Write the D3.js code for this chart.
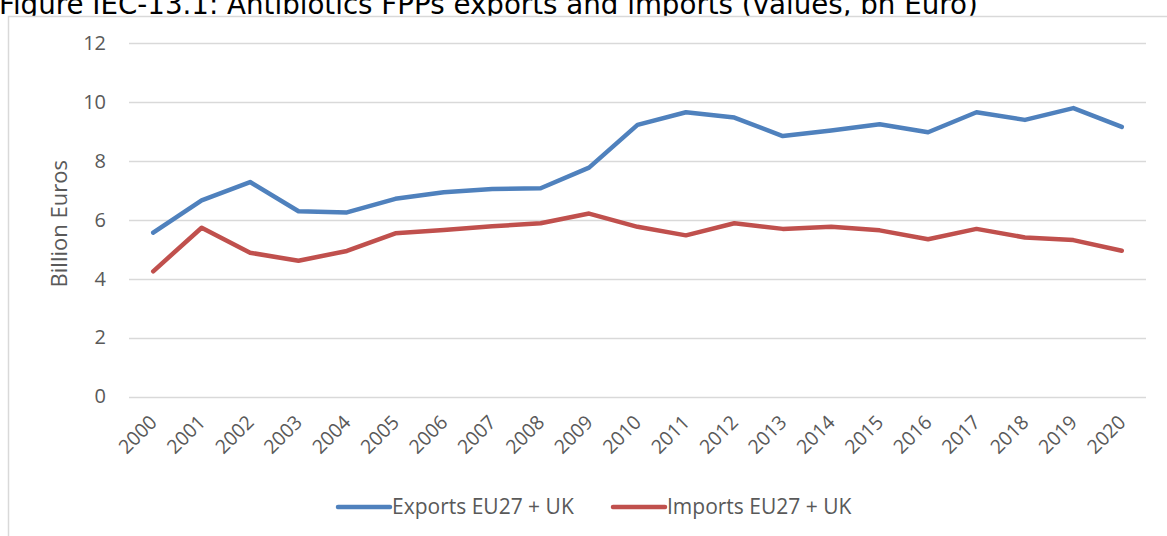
<!DOCTYPE html>
<html>
<head>
<meta charset="utf-8">
<script src="https://cdn.jsdelivr.net/npm/d3@7"></script>
<style>
  html, body { margin: 0; padding: 0; background: #fff; }
  svg { display: block; }
</style>
</head>
<body>
<svg id="chart" width="1167" height="536"></svg>
<script>
// Antibiotics FPPs trade, EU27 + UK, billion euro
const years = ["2000","2001","2002","2003","2004","2005","2006","2007","2008","2009","2010",
               "2011","2012","2013","2014","2015","2016","2017","2018","2019","2020"];
const exportsEU = [5.56, 6.66, 7.28, 6.29, 6.25, 6.71, 6.93, 7.04, 7.07, 7.77, 9.22,
                   9.65, 9.47, 8.84, 9.03, 9.24, 8.97, 9.65, 9.39, 9.79, 9.15];
const importsEU = [4.25, 5.73, 4.88, 4.61, 4.94, 5.54, 5.65, 5.78, 5.88, 6.21, 5.76,
                   5.47, 5.88, 5.69, 5.76, 5.64, 5.34, 5.69, 5.40, 5.31, 4.95];
const yTicks = [0, 2, 4, 6, 8, 10, 12];
const seriesNames = ["Exports EU27 + UK", "Imports EU27 + UK"];
const seriesColors = ["#4f81bd", "#c0504d"];

const svg = d3.select("#chart");
const W = 1167, H = 536;
const plot = { left: 129, right: 1146, top: 43, bottom: 396.5 };
const axisFont = "'Open Sans', Lato, sans-serif";
const textColor = "#595959";

// Title (partly above the frame)
svg.append("text")
  .attr("x", -1).attr("y", 14)
  .attr("font-family", "'DejaVu Sans', Verdana, sans-serif")
  .attr("font-size", 27.7)
  .attr("fill", "#000")
  .text("Figure IEC-13.1: Antibiotics FPPs exports and imports (values, bn Euro)");

// Chart frame
svg.append("rect")
  .attr("x", 8.5).attr("y", 16.5)
  .attr("width", W).attr("height", H)
  .attr("fill", "#fff").attr("stroke", "#d9d9d9").attr("stroke-width", 1.5);

const x = d3.scaleBand().domain(years).range([plot.left, plot.right]);
const y = d3.scaleLinear().domain([0, 12]).range([plot.bottom, plot.top]);

// Gridlines
svg.append("g")
  .selectAll("line").data(yTicks).join("line")
  .attr("x1", plot.left).attr("x2", plot.right)
  .attr("y1", d => Math.round(y(d)) + 0.5).attr("y2", d => Math.round(y(d)) + 0.5)
  .attr("stroke", "#d9d9d9").attr("stroke-width", 1.3);

// Y axis labels
const yAxis = d3.axisLeft(y).tickValues(yTicks).tickSize(0).tickPadding(0);
const gy = svg.append("g").attr("transform", `translate(106,0)`).call(yAxis);
gy.select(".domain").remove();
gy.selectAll("text")
  .attr("font-family", axisFont).attr("font-size", 20).attr("fill", textColor);

// Y axis title
svg.append("text")
  .attr("transform", `translate(67,${(plot.top + plot.bottom) / 2 + 4}) rotate(-90)`)
  .attr("text-anchor", "middle")
  .attr("font-family", axisFont).attr("font-size", 22).attr("fill", textColor)
  .text("Billion Euros");

// X axis labels, rotated
const xAxis = d3.axisBottom(x).tickSize(0).tickPadding(0);
const gx = svg.append("g").attr("transform", `translate(0,${plot.bottom})`).call(xAxis);
gx.select(".domain").remove();
gx.selectAll(".tick text")
  .attr("font-family", axisFont).attr("font-size", 19.5).attr("fill", textColor)
  .attr("text-anchor", "end")
  .attr("dy", 0)
  .attr("transform", "translate(5,27) rotate(-45)");

// Series lines
const series = [exportsEU, importsEU];
const line = d3.line()
  .x((d, i) => x(years[i]) + x.bandwidth() / 2)
  .y(d => y(d));
series.forEach((vals, k) => {
  svg.append("path")
    .datum(vals)
    .attr("d", line)
    .attr("fill", "none")
    .attr("stroke", seriesColors[k])
    .attr("stroke-width", 4.5)
    .attr("stroke-linejoin", "round")
    .attr("stroke-linecap", "round");
});

// Legend
const legendX = [338, 613];
const legendY = 507;
seriesNames.forEach((name, k) => {
  const g = svg.append("g").attr("transform", `translate(${legendX[k]},${legendY})`);
  g.append("line")
    .attr("x1", 0).attr("x2", 52).attr("y1", 0).attr("y2", 0)
    .attr("stroke", seriesColors[k]).attr("stroke-width", 4.5)
    .attr("stroke-linecap", "round");
  g.append("text")
    .attr("x", 54).attr("y", 0).attr("dy", "0.35em")
    .attr("font-family", axisFont).attr("font-size", 21).attr("fill", textColor)
    .text(name);
});
</script>
</body>
</html>
